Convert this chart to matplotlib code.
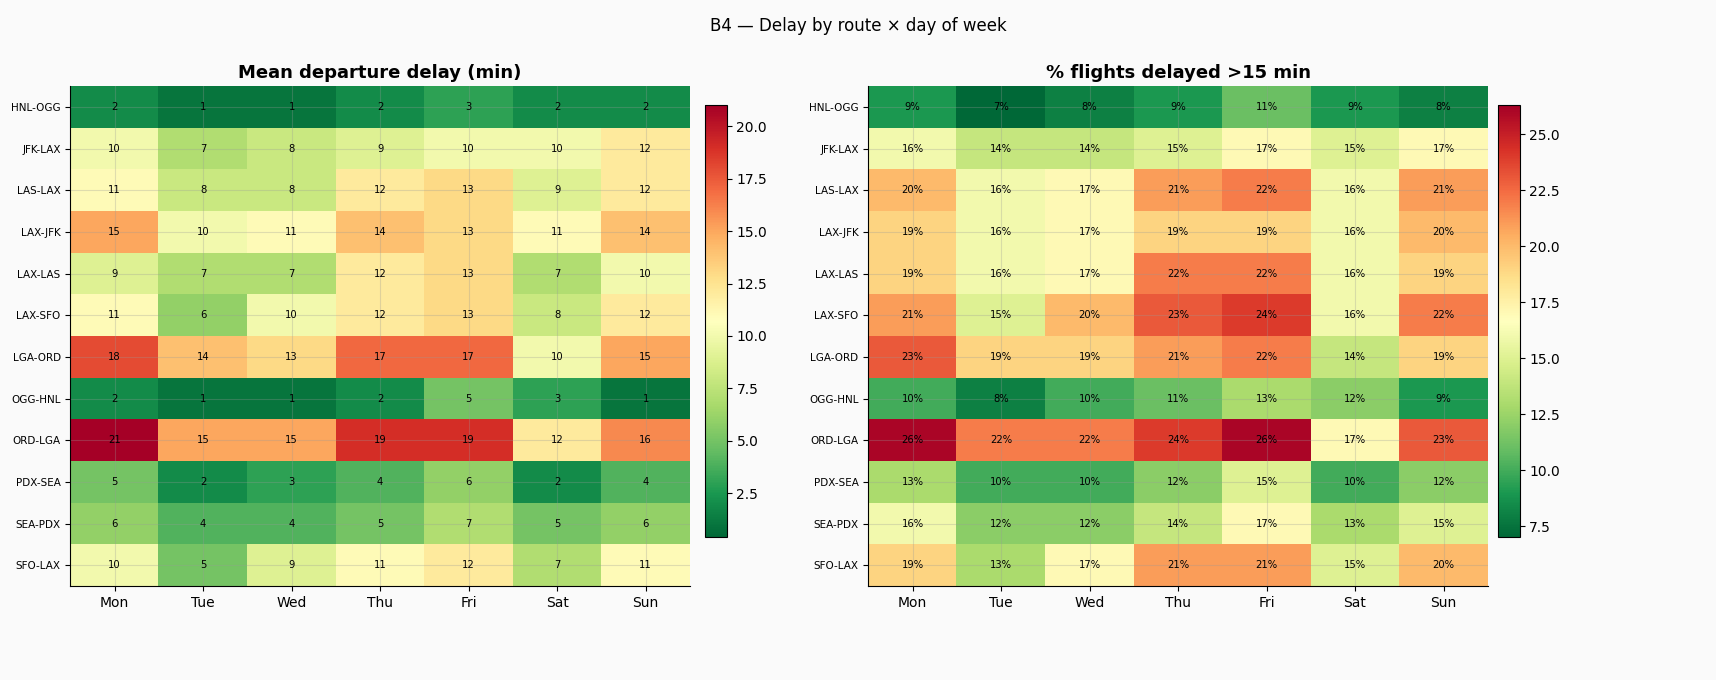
import matplotlib
matplotlib.use("Agg")
import matplotlib.pyplot as plt
import numpy as np

routes = ["HNL-OGG","JFK-LAX","LAS-LAX","LAX-JFK","LAX-LAS","LAX-SFO","LGA-ORD","OGG-HNL","ORD-LGA","PDX-SEA","SEA-PDX","SFO-LAX"]
days = ["Mon","Tue","Wed","Thu","Fri","Sat","Sun"]
mean_delay = [
    [2,1,1,2,3,2,2],
    [10,7,8,9,10,10,12],
    [11,8,8,12,13,9,12],
    [15,10,11,14,13,11,14],
    [9,7,7,12,13,7,10],
    [11,6,10,12,13,8,12],
    [18,14,13,17,17,10,15],
    [2,1,1,2,5,3,1],
    [21,15,15,19,19,12,16],
    [5,2,3,4,6,2,4],
    [6,4,4,5,7,5,6],
    [10,5,9,11,12,7,11],
]
pct_delayed = [
    [9,7,8,9,11,9,8],
    [16,14,14,15,17,15,17],
    [20,16,17,21,22,16,21],
    [19,16,17,19,19,16,20],
    [19,16,17,22,22,16,19],
    [21,15,20,23,24,16,22],
    [23,19,19,21,22,14,19],
    [10,8,10,11,13,12,9],
    [26,22,22,24,26,17,23],
    [13,10,10,12,15,10,12],
    [16,12,12,14,17,13,15],
    [19,13,17,21,21,15,20],
]

fig = plt.figure(figsize=(17.16, 6.8), dpi=100, facecolor="#fafafa")
fig.suptitle("B4 — Delay by route × day of week", fontsize=12, y=0.975)

specs = [
    (mean_delay, "Mean departure delay (min)", (0.041, 0.138, 0.361, 0.735), (0.411, 0.21, 0.0125, 0.635), 0.4, 21.0, "{:d}"),
    (pct_delayed, "% flights delayed >15 min", (0.506, 0.138, 0.361, 0.735), (0.873, 0.21, 0.0125, 0.635), 7.0, 26.3, "{:d}%"),
]
for data, title, rect, crect, vmin, vmax, fmt in specs:
    arr = np.array(data)
    ax = fig.add_axes(rect)
    ax.set_facecolor("#fafafa")
    im = ax.imshow(arr, cmap="RdYlGn_r", vmin=vmin, vmax=vmax, aspect="auto")
    ax.set_xticks(range(len(days)))
    ax.set_xticklabels(days, fontsize=10)
    ax.set_yticks(range(len(routes)))
    ax.set_yticklabels(routes, fontsize=7.5)
    ax.set_title(title, fontsize=13, fontweight="bold", pad=6)
    ax.grid(True, color="#999999", alpha=0.3, linewidth=0.8)
    for s in ["top", "right"]:
        ax.spines[s].set_visible(False)
    for i in range(arr.shape[0]):
        for j in range(arr.shape[1]):
            ax.text(j, i, fmt.format(int(arr[i, j])), ha="center", va="center", fontsize=7.2, color="black")
    cax = fig.add_axes(crect)
    cb = fig.colorbar(im, cax=cax)
    cb.ax.tick_params(labelsize=10)

fig.savefig("out.png", dpi=100, facecolor=fig.get_facecolor())
